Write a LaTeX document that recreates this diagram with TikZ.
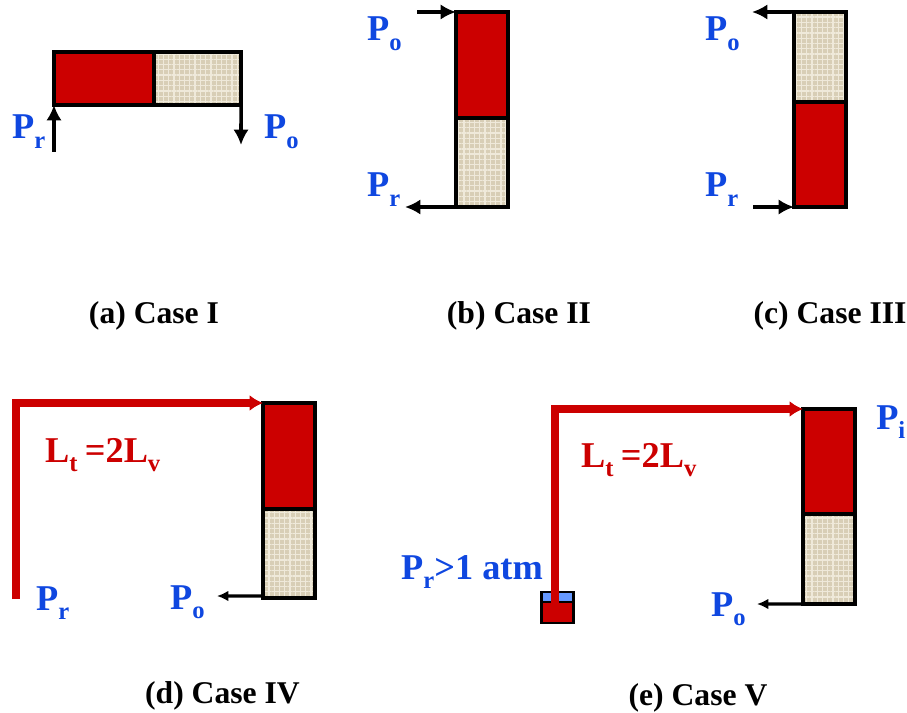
\documentclass[tikz,border=0pt]{standalone}
\usepackage{fontspec}
\setmainfont{Liberation Serif}
\usepackage{tikz}
\usetikzlibrary{
	arrows.meta,
	patterns.meta,
	positioning
}
\definecolor{FluidRed}{HTML}{CC0000}
\definecolor{SandTan}{HTML}{D8CEB6}
\definecolor{SandLight}{HTML}{EFE9DA}
\definecolor{LabelBlue}{HTML}{0F47E0}
\definecolor{GasBlue}{HTML}{6699FF}
\newcommand{\subs}[1]{\raisebox{-.27em}{\fontsize{21}{23}\selectfont #1}}

\begin{document}
\begin{tikzpicture}[
 x=.03cm,y=-.03cm,
 cell/.style={draw=black,line width=3.4pt,outer sep=0pt,inner sep=0pt},
 fluid/.style={cell,fill=FluidRed},
 sand/.style={cell,fill=SandTan,preaction={fill=SandTan},
   pattern={Hatch[distance=4.5pt,angle=0,line width=1.1pt]},pattern color=SandLight},
 flow/.style={-{Latex[length=4.6mm,width=4.6mm]},draw=black,line width=3pt},
 thinflow/.style={-{Latex[length=3.4mm,width=3.2mm]},draw=black,line width=2.6pt},
 pipe/.style={-{Latex[length=4mm,width=4.8mm]},draw=FluidRed,line width=6pt},
 lab/.style={anchor=base west,inner sep=0pt,font=\bfseries\fontsize{31}{33}\selectfont,text=LabelBlue},
 redlab/.style={lab,text=FluidRed},
 caption/.style={anchor=base,inner sep=0pt,font=\bfseries\fontsize{27}{29}\selectfont}
]
 \useasboundingbox (0,0) rectangle (907,713);
 % Case I
 \node[fluid,minimum width=3cm,minimum height=1.59cm] (redA) at (104,78.5) {};
 \node[sand,minimum width=2.61cm,minimum height=1.59cm,right=0pt of redA] (sandA) {};
 \coordinate (prA) at (54,152);
 \coordinate (poA) at (241,145);
 \draw[flow] (prA)--(redA.south west);
 \draw[flow] (sandA.south east)--(poA);
 \node[lab] (lprA) at (12,139) {P\subs{r}};
 \node[lab] (lpoA) at (264,139) {P\subs{o}};
 \node[caption] (capA) at (154,323) {(a) Case I};
 % Case II
 \node[fluid,minimum width=1.56cm,minimum height=3.18cm] (redB) at (482,65) {};
 \node[sand,minimum width=1.56cm,minimum height=2.67cm,below=0pt of redB] (sandB) {};
 \coordinate (poB) at (417,12);
 \coordinate (prB) at (405,207);
 \draw[flow] (poB)--(redB.north west);
 \draw[flow] (sandB.south west)--(prB);
 \node[lab] (lpoB) at (367,41) {P\subs{o}};
 \node[lab] (lprB) at (367,197) {P\subs{r}};
 \node[caption] (capB) at (519,323) {(b) Case II};
 % Case III
 \node[sand,minimum width=1.56cm,minimum height=2.7cm] (sandC) at (820,57) {};
 \node[fluid,minimum width=1.56cm,minimum height=3.15cm,below=0pt of sandC] (redC) {};
 \coordinate (poC) at (752,12);
 \coordinate (prC) at (753,207);
 \draw[flow] (sandC.north west)--(poC);
 \draw[flow] (prC)--(redC.south west);
 \node[lab] (lpoC) at (705,41) {P\subs{o}};
 \node[lab] (lprC) at (705,197) {P\subs{r}};
 \node[caption] (capC) at (830,323) {(c) Case III};
 % Case IV
 \node[fluid,minimum width=1.56cm,minimum height=3.18cm] (redD) at (289,456) {};
 \node[sand,minimum width=1.56cm,minimum height=2.67cm,below=0pt of redD] (sandD) {};
 \coordinate (startD) at (16,599);
 \coordinate (poD) at (217,596);
 \draw[pipe] (startD)|-(redD.north west);
 \draw[thinflow] ([yshift=.6mm]sandD.south west)--(poD);
 \node[redlab] (ltD) at (45,462) {L\subs{t}\hspace{-.05em} =2L\subs{v}};
 \node[lab] (lprD) at (36,610) {P\subs{r}};
 \node[lab] (lpoD) at (170,609) {P\subs{o}};
 \node[caption] (capD) at (222.5,703) {(d) Case IV};
 % Case V
 \node[fluid,minimum width=1.56cm,minimum height=3.15cm] (redE) at (829,461.5) {};
 \node[sand,minimum width=1.56cm,minimum height=2.7cm,below=0pt of redE] (sandE) {};
 \node[cell,line width=2.2pt,fill=GasBlue,minimum width=.945cm,minimum height=.3cm] (gasE) at (557.5,597) {};
 \node[cell,line width=2.2pt,fill=FluidRed,minimum width=.945cm,minimum height=.63cm,below=0pt of gasE] (tankE) {};
 \coordinate (startE) at (555,610);
 \coordinate (poE) at (757,604);
 \draw[pipe] (startE)|-(redE.north west);
 \draw[thinflow] (sandE.south west)--(poE);
 \node[redlab] (ltE) at (581,467) {L\subs{t}\hspace{-.05em} =2L\subs{v}};
 \node[lab] (lpiE) at (876,429) {P\subs{i}};
 \node[lab] (lprE) at (401,579) {P\subs{r}>1 atm};
 \node[lab] (lpoE) at (711,616) {P\subs{o}};
 \node[caption] (capE) at (698,705) {(e) Case V};
\end{tikzpicture}
\end{document}
